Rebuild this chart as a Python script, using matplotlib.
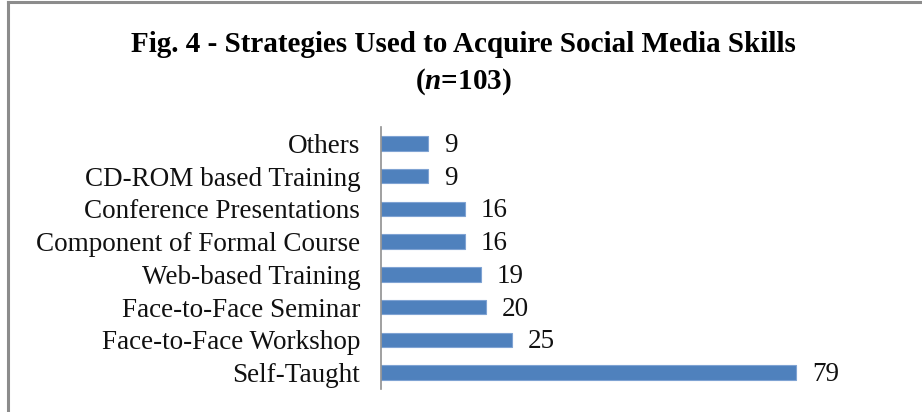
import matplotlib
matplotlib.use("Agg")
import matplotlib.pyplot as plt
from matplotlib.lines import Line2D

CATEGORIES = ["Self-Taught", "Face-to-Face Workshop", "Face-to-Face Seminar",
              "Web-based Training", "Component of Formal Course",
              "Conference Presentations", "CD-ROM based Training", "Others"]
COUNTS = [79, 25, 20, 19, 16, 16, 9, 9]

SERIF = ["Liberation Serif", "DejaVu Serif"]
plt.rcParams["mathtext.fontset"] = "custom"
plt.rcParams["mathtext.bfit"] = "Liberation Serif:italic:bold"
plt.rcParams["mathtext.rm"] = "Liberation Serif:bold"

fig = plt.figure(figsize=(9.22, 4.12), dpi=100)
fig.patch.set_facecolor("white")

# chart frame (only top/left visible in the crop)
fig.add_artist(Line2D([8 / 922, 8 / 922], [0, 1 - 2 / 412], transform=fig.transFigure,
                      color="#8c8c8c", linewidth=2.2))
fig.add_artist(Line2D([8 / 922, 1], [1 - 2 / 412, 1 - 2 / 412], transform=fig.transFigure,
                      color="#8c8c8c", linewidth=2.2))

ax = fig.add_axes([381 / 922, 1 - 389 / 412, 0.57, (389 - 127) / 412])
y = range(len(CATEGORIES))
ax.barh(y, COUNTS, height=0.44, color="#4F81BD", edgecolor="#7FA3D3", linewidth=0.8)

for yi, v in zip(y, COUNTS):
    ax.text(v + 3.0, yi - 0.06, str(v), va="center", ha="left",
            fontsize=19.5, family=SERIF, color="#111111")

ax.set_xlim(0, 100)
ax.set_ylim(-0.5, len(CATEGORIES) - 0.5)
ax.set_yticks(list(y))
ax.set_yticklabels(CATEGORIES, fontsize=19.5, family=SERIF, color="#111111")
ax.tick_params(axis="y", length=0, pad=15)
ax.set_xticks([])
for s in ["top", "right", "bottom"]:
    ax.spines[s].set_visible(False)
ax.spines["left"].set_color("#909090")
ax.spines["left"].set_linewidth(1.2)

fig.text(0.503, 1 - 45 / 412, "Fig. 4 - Strategies Used to Acquire Social Media Skills",
         ha="center", va="center", fontsize=21, fontweight="bold", family=SERIF)
fig.text(0.503, 1 - 82 / 412, r"($\bfit{n}$=103)",
         ha="center", va="center", fontsize=21, fontweight="bold", family=SERIF)

fig.savefig("out.png", dpi=100)
